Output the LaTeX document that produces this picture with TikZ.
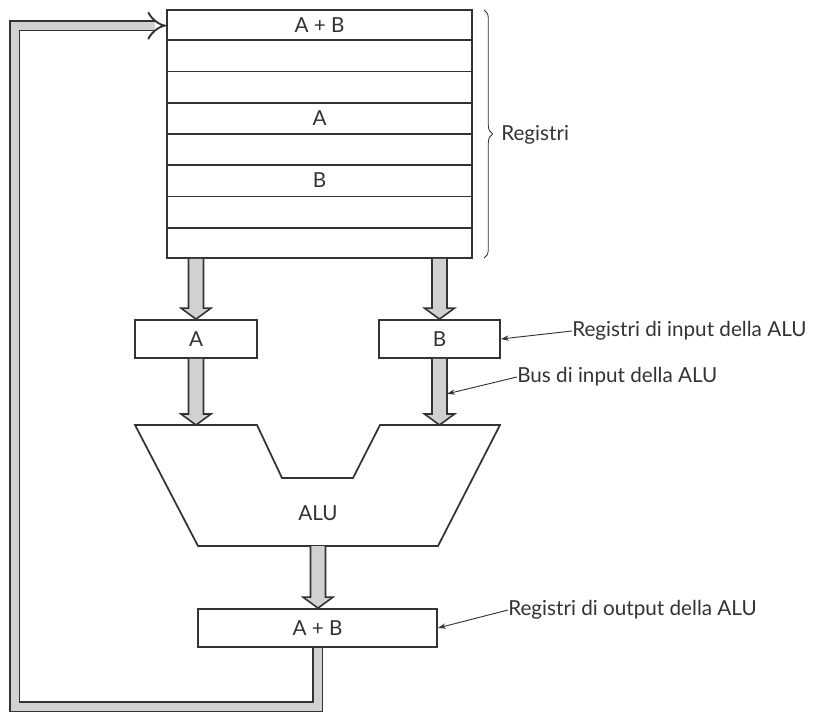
\documentclass[tikz,border=0pt]{standalone}
\usepackage{fontspec}
\setmainfont{Lato}
\usetikzlibrary{arrows.meta,calc,decorations.pathreplacing}
\definecolor{ink}{gray}{0.2}
\definecolor{busgray}{gray}{0.82}
\tikzset{
  box/.style={draw=ink, line width=1.3pt, fill=white, inner sep=0pt},
  lbl/.style={text=ink, font=\fontsize{15.5}{18}\selectfont, inner sep=0pt},
  note/.style={text=ink, font=\fontsize{15.5}{18}\selectfont, inner sep=0pt, anchor=west},
  callout/.style={draw=ink, line width=0.7pt, -{Stealth[length=6pt,width=4pt]}},
  busfill/.style={fill=busgray, draw=ink, line width=1.2pt, line join=miter},
  feedback/.style={draw=ink, line width=1.4pt, double=busgray, double distance=6pt,
                   -{Implies[scale=1.5]}, line join=miter},
}
\newcommand\busarrow[2]{%
  \filldraw[busfill] let \p1=(#1), \p2=(#2) in
    (\x1-5.6pt,\y1) -- (\x1-5.6pt,\y2+8.25pt) -- (\x1-11.25pt,\y2+8.25pt) --
    (\x1,\y2) -- (\x1+11.25pt,\y2+8.25pt) -- (\x1+5.6pt,\y2+8.25pt) -- (\x1+5.6pt,\y1);}
\begin{document}
\begin{tikzpicture}[x=0.75pt,y=-0.75pt]
\useasboundingbox (0,0) rectangle (817,712);
% register file
\node[box, minimum width=305*0.75pt, minimum height=248*0.75pt] (regs) at (319.5,134) {};
\foreach \k in {1,...,7}{
  \draw[draw=ink, line width=1.3pt] ($(regs.north west)!\k/8!(regs.south west)$) -- ($(regs.north east)!\k/8!(regs.south east)$);
}
\node[lbl] (r1) at ($(regs.north)+(0,15.5)$) {A + B};
\node[lbl] (r4) at ($(regs.north)+(0,108.5)$) {A};
\node[lbl] (r6) at ($(regs.north)+(0,170.5)$) {B};
% brace
\coordinate (brt) at (484,10);
\coordinate (brb) at (484,258);
\draw[draw=ink, line width=0.6pt, decorate, decoration={brace, amplitude=6.5pt}] (brt) -- (brb);
\node[note] (lreg) at (501,135) {Registri};
% input registers
\node[box, minimum width=122*0.75pt, minimum height=38*0.75pt] (A) at (196,339) {};
\node[lbl] (At) at (A) {A};
\node[box, minimum width=121*0.75pt, minimum height=38*0.75pt] (B) at (439.5,339) {};
\node[lbl] (Bt) at (B) {B};
% ALU
\coordinate (alutop) at (318,425);
\coordinate (alubot) at (318,546);
\filldraw[draw=ink, fill=white, line width=1.3pt, line join=miter]
  (135,425) -- (257,425) -- (282,478) -- (353,478) -- (380,425) -- (500,425) -- (438,546) -- (198,546) -- cycle;
\node[lbl] (alu) at (318,513) {ALU};
% output register
\node[box, minimum width=239*0.75pt, minimum height=38*0.75pt] (out) at (317.5,628) {};
\node[lbl] (outt) at (out) {A + B};
% buses
\busarrow{A.north |- regs.south}{A.north}
\busarrow{B.north |- regs.south}{B.north}
\busarrow{A.south}{A.south |- alutop}
\busarrow{B.south}{B.south |- alutop}
\busarrow{alubot}{out.north}
% feedback bus
\coordinate (fbc) at (14.5,707);
\coordinate (fbend) at ($(regs.north west)+(0,16.5)$);
\draw[feedback] (out.south) |- (fbc) |- (fbend);
% callouts
\node[note] (lin) at (572,331) {Registri di input della ALU};
\node[note] (lbus) at (517,377) {Bus di input della ALU};
\node[note] (lout) at (508,610) {Registri di output della ALU};
\coordinate (busB) at ($(B.south)+(7.5,35)$);
\draw[callout] (lin.west) -- (B.east);
\draw[callout] (lbus.west) -- (busB);
\draw[callout] (lout.west) -- (out.east);
\end{tikzpicture}
\end{document}
